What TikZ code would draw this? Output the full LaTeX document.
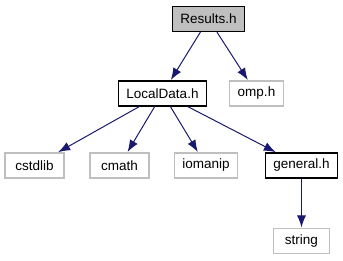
\documentclass[tikz,border=0pt]{standalone}
\usepackage{fontspec}
\setmainfont{Liberation Sans}
\usetikzlibrary{arrows.meta}
\definecolor{edgeblue}{RGB}{25,25,112}
\definecolor{greyline}{RGB}{191,191,191}
\tikzstyle{every path}=[line width=1pt]
\tikzstyle{header} = [draw=black, line width=1.2pt, minimum height=25pt, inner xsep=8pt, inner ysep=0pt, font=\fontsize{13.5}{15}\selectfont]
\tikzstyle{syshead} = [header, draw=greyline]
\tikzstyle{incl} = [draw=edgeblue, -{Latex[length=12pt, width=9pt]}, shorten >=0.5pt]

\begin{document}
\begin{tikzpicture}[x=1pt, y=-1pt]
            \useasboundingbox (0, 0) rectangle (343, 261);

            \node[header, fill=greyline] (results) at (208.5, 19) {Results.h};
            \node[header] (localdata) at (162.5, 93.5) {LocalData.h};
            \node[syshead] (omp) at (256.5, 93.5) {omp.h};

            \node[syshead, minimum width=59pt] (cstdlib) at (34.5, 165.5) {cstdlib};
            \node[syshead, minimum width=59pt] (cmath) at (119.5, 165.5) {cmath};
            \node[syshead] (iomanip) at (206, 165.5) {iomanip};
            \node[header] (general) at (301.5, 165.5) {general.h};

            \node[syshead, minimum width=56pt] (string) at (301.5, 241) {string};

            \draw[incl] (results) -- (localdata);
            \draw[incl] (results) -- (omp);
            \draw[incl] (localdata) -- (cstdlib);
            \draw[incl] (localdata) -- (cmath);
            \draw[incl] (localdata) -- (iomanip);
            \draw[incl] (localdata) -- (general);
            \draw[incl] (general) -- (string);
        \end{tikzpicture}
\end{document}
